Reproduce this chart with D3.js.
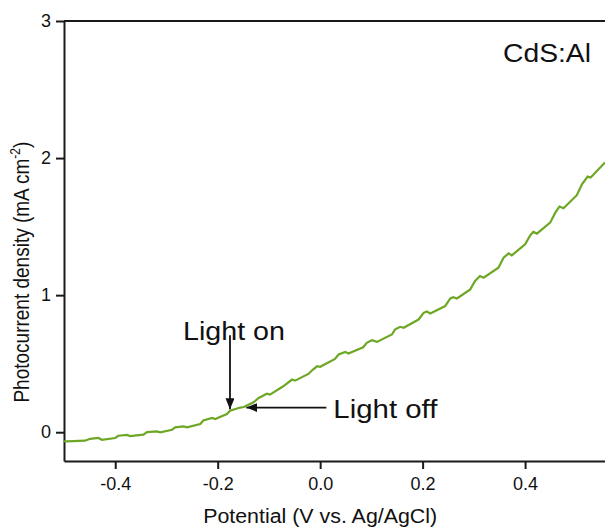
<!DOCTYPE html>
<html>
<head>
<meta charset="utf-8">
<script src="https://cdn.jsdelivr.net/npm/d3@7"></script>
<style>
body{margin:0;background:#fff}
svg{display:block}
.axis path,.axis line{stroke:#1a1a1a;stroke-width:2}
.axis text{font-family:"Liberation Sans",Arial,sans-serif;font-size:18px;fill:#111}
.lbl{font-family:"Liberation Sans",Arial,sans-serif;fill:#111}
</style>
</head>
<body>
<div id="chart"></div>
<script>
// potential (V vs Ag/AgCl) and photocurrent (mA cm-2)
let potential=[-0.5,-0.494,-0.459,-0.449,-0.433,-0.426,-0.400,-0.394,-0.377,-0.371,-0.345,-0.338,-0.319,-0.312,
 -0.289,-0.283,-0.267,-0.260,-0.234,-0.228,-0.211,-0.205,-0.182,-0.176,-0.156,-0.149,-0.130,-0.120,-0.104,-0.098,
 -0.072,-0.055,-0.049,-0.023,-0.014,-0.006,0.000,0.029,0.036,0.049,0.055,0.084,0.091,0.101,0.111,0.140,0.146,0.156,
 0.163,0.192,0.202,0.208,0.215,0.244,0.254,0.260,0.267,0.293,0.302,0.312,0.319,0.348,0.358,0.368,0.374,0.390,0.400,
 0.410,0.416,0.423,0.449,0.459,0.467,0.475,0.501,0.511,0.522,0.528,0.556]
let current=[-0.066,-0.067,-0.062,-0.048,-0.042,-0.055,-0.042,-0.026,-0.020,-0.028,-0.018,0.001,0.006,-0.001,
 0.018,0.035,0.042,0.035,0.060,0.086,0.104,0.096,0.133,0.157,0.180,0.184,0.218,0.250,0.281,0.274,
 0.335,0.384,0.376,0.425,0.457,0.481,0.477,0.535,0.567,0.586,0.574,0.620,0.652,0.671,0.659,0.713,0.749,0.769,
 0.762,0.822,0.871,0.881,0.866,0.920,0.976,0.985,0.976,1.042,1.102,1.139,1.127,1.200,1.273,1.305,1.290,1.339,1.371,
 1.436,1.461,1.449,1.529,1.602,1.646,1.634,1.729,1.809,1.865,1.858,1.968]
let xTicks=[-0.4,-0.2,0.0,0.2,0.4]
let yTicks=[0,1,2,3]
// annotations: label, arrow tip on the curve
let notes=[{text:"Light on",v:-0.176,j:0.16},{text:"Light off",v:-0.146,j:0.18}]

let svgWidth=605
let svgHeight=531
let margin={top:21,right:0,bottom:70,left:64}
let chartwidth=svgWidth-margin.left-margin.right
let chartheight=svgHeight-margin.top-margin.bottom

let svg=d3.select("#chart").append("svg")
 .attr("width",svgWidth).attr("height",svgHeight)
svg.append("defs").append("marker")
 .attr("id","arr").attr("viewBox","0 0 10 10").attr("refX",10).attr("refY",5)
 .attr("markerWidth",11).attr("markerHeight",9).attr("markerUnits","userSpaceOnUse").attr("orient","auto")
 .attr("preserveAspectRatio","none")
 .append("path").attr("d","M0,0L10,5L0,10z").attr("fill","#111")
let g=svg.append("g").attr("transform",`translate(${margin.left},${margin.top})`)

let x=d3.scaleLinear().domain([-0.5,0.556]).range([0,chartwidth])
let y=d3.scaleLinear().domain([-0.21,3]).range([chartheight,0])

let xAxis=d3.axisBottom(x).tickValues(xTicks).tickSize(8).tickPadding(8).tickFormat(d=>d.toFixed(1)).tickSizeOuter(0)
let yAxis=d3.axisLeft(y).tickValues(yTicks).tickSize(8).tickPadding(5).tickFormat(d=>String(d)).tickSizeOuter(0)
g.append("g").attr("class","axis").attr("transform",`translate(0,${chartheight})`).call(xAxis)
g.append("g").attr("class","axis").call(yAxis)
// top frame
g.append("line").attr("x1",0).attr("x2",chartwidth).attr("y1",0).attr("y2",0)
 .attr("stroke","#1a1a1a").attr("stroke-width",2)

let pts=potential.map((p,i)=>[p,current[i]])
g.append("path").datum(pts)
 .attr("fill","none").attr("stroke","#6ea725").attr("stroke-width",2.2)
 .attr("d",d3.line().x(d=>x(d[0])).y(d=>y(d[1])))

// axis titles
g.append("text").attr("class","lbl").attr("font-size",20)
 .attr("x",x(0)-117).attr("y",chartheight+62)
 .attr("textLength",234).attr("lengthAdjust","spacingAndGlyphs")
 .text("Potential (V vs. Ag/AgCl)")
let yt=g.append("text").attr("class","lbl").attr("font-size",19).attr("text-anchor","middle")
 .attr("transform",`translate(-35,${y(1.168)}) scale(1.15,1) rotate(-90)`)
yt.append("tspan").text("Photocurrent density (mA cm")
yt.append("tspan").attr("font-size",12).attr("dy",-8).text("-2")
yt.append("tspan").attr("dy",8).text(")")

g.append("text").attr("class","lbl").attr("font-size",25)
 .attr("x",chartwidth-102).attr("y",y(2.73)+4)
 .attr("textLength",88).attr("lengthAdjust","spacingAndGlyphs").text("CdS:Al")

// Light on: vertical arrow down onto the curve
let on=notes[0]
g.append("text").attr("class","lbl").attr("font-size",25)
 .attr("x",x(on.v)-47).attr("y",y(on.j)-70)
 .attr("textLength",102).attr("lengthAdjust","spacingAndGlyphs").text(on.text)
g.append("line").attr("x1",x(on.v)).attr("x2",x(on.v)).attr("y1",y(on.j)-75).attr("y2",y(on.j)-1)
 .attr("stroke","#111").attr("stroke-width",1.8).attr("marker-end","url(#arr)")
// Light off: horizontal arrow pointing left onto the curve
let off=notes[1]
g.append("line").attr("x1",x(off.v)+81).attr("x2",x(off.v)+1).attr("y1",y(off.j)).attr("y2",y(off.j))
 .attr("stroke","#111").attr("stroke-width",1.8).attr("marker-end","url(#arr)")
g.append("text").attr("class","lbl").attr("font-size",25)
 .attr("x",x(off.v)+88).attr("y",y(off.j)+10)
 .attr("textLength",104).attr("lengthAdjust","spacingAndGlyphs").text(off.text)
</script>
</body>
</html>
